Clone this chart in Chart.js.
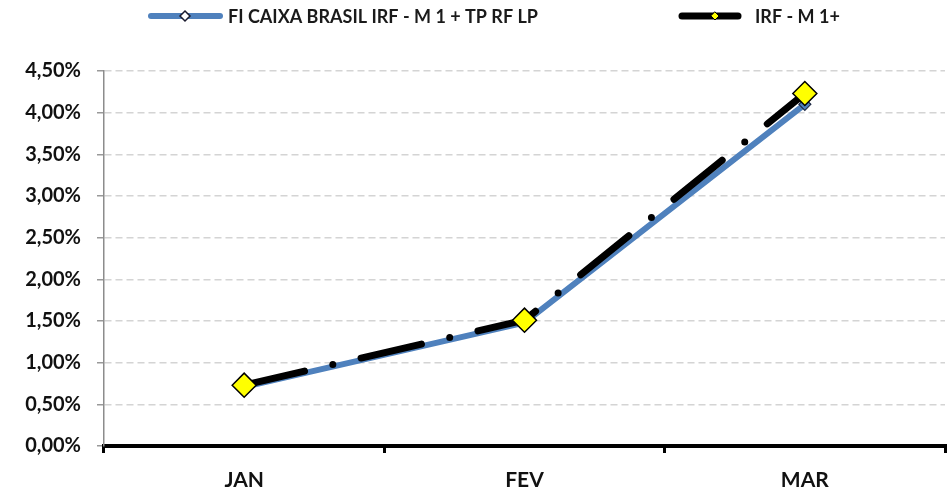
<!DOCTYPE html>
<html><head><meta charset="utf-8">
<script src="https://cdn.jsdelivr.net/npm/chart.js@4.4.1/dist/chart.umd.min.js"></script>
<style>html,body{margin:0;padding:0;background:#fff;}#wrap{width:947px;height:493px;}</style>
</head><body><div id="wrap"><canvas id="c" width="947" height="493"></canvas></div>
<script>
const categories = ['JAN', 'FEV', 'MAR'];
const seriesFund = [0.71, 1.48, 4.10];
const seriesIndex = [0.73, 1.51, 4.23];
const seriesNames = ['FI CAIXA BRASIL IRF - M 1 + TP RF LP', 'IRF - M 1+'];
const yTicks = [0, 0.5, 1, 1.5, 2, 2.5, 3, 3.5, 4, 4.5];

const FONT = 'Lato, "Open Sans", sans-serif';

const legendPlugin = {
  id: 'customLegend',
  afterDraw(chart) {
    const ctx = chart.ctx;
    ctx.save();
    const y = 16;
    ctx.lineCap = 'round';
    ctx.strokeStyle = '#4f81bd'; ctx.lineWidth = 6;
    ctx.beginPath(); ctx.moveTo(151, y); ctx.lineTo(220, y); ctx.stroke();
    ctx.fillStyle = '#ffffff'; ctx.strokeStyle = '#1a1a2e'; ctx.lineWidth = 1.5;
    ctx.beginPath(); ctx.moveTo(185, y - 5); ctx.lineTo(190, y); ctx.lineTo(185, y + 5); ctx.lineTo(180, y); ctx.closePath(); ctx.fill(); ctx.stroke();
    ctx.strokeStyle = '#000000'; ctx.lineWidth = 7;
    ctx.beginPath(); ctx.moveTo(682, y); ctx.lineTo(738, y); ctx.stroke();
    ctx.fillStyle = '#ffff00'; ctx.strokeStyle = '#000'; ctx.lineWidth = 1;
    ctx.beginPath(); ctx.moveTo(715, y - 4); ctx.lineTo(719, y); ctx.lineTo(715, y + 4); ctx.lineTo(711, y); ctx.closePath(); ctx.fill(); ctx.stroke();
    ctx.fillStyle = '#1a1a1a';
    ctx.font = 'bold 18px ' + FONT;
    ctx.textBaseline = 'middle';
    ctx.textAlign = 'left';
    ctx.fillText(seriesNames[0], 228, y + 1);
    ctx.fillText(seriesNames[1], 755, y + 1);
    ctx.restore();
  }
};

new Chart(document.getElementById('c'), {
  type: 'line',
  data: {
    labels: categories,
    datasets: [
      {
        label: seriesNames[0], data: seriesFund, order: 2,
        borderColor: '#4f81bd', borderWidth: 6, borderCapStyle: 'round', borderJoinStyle: 'round',
        pointStyle: 'rectRot', pointRadius: 6, pointBackgroundColor: '#4f81bd', pointBorderColor: '#1f2a44', pointBorderWidth: 1.2,
        tension: 0, fill: false
      },
      {
        label: seriesNames[1], data: seriesIndex, order: 1,
        borderColor: '#000000', borderWidth: 7, borderCapStyle: 'round', borderJoinStyle: 'round',
        borderDash: [62, 29, 0, 29],
        pointStyle: 'rectRot', pointRadius: 12, pointBackgroundColor: '#ffff00', pointBorderColor: '#000000', pointBorderWidth: 1.5,
        tension: 0, fill: false
      }
    ]
  },
  options: {
    responsive: false, animation: false,
    layout: { autoPadding: false, padding: { top: 71, right: 2, left: 0, bottom: 0 } },
    plugins: { legend: { display: false }, tooltip: { enabled: false } },
    scales: {
      x: {
        offset: true,
        afterFit(s) { s.height = 47; s.paddingLeft = 0; s.paddingRight = 0; },
        grid: { offset: true, drawOnChartArea: false, drawTicks: true, tickLength: 7, color: '#000', lineWidth: 3 },
        border: { display: true, color: '#000', width: 4 },
        ticks: { color: '#111', font: { family: FONT, size: 21, weight: 'bold' }, padding: 15 }
      },
      y: {
        min: 0, max: 4.5,
        afterFit(s) { s.width = 104; },
        afterBuildTicks(s) { s.ticks = yTicks.map(v => ({ value: v })); },
        grid: { color: '#d4d4d4', lineWidth: 1.5, tickLength: 7, tickColor: '#999', tickWidth: 1.5 },
        border: { display: true, color: '#8c8c8c', width: 1.5, dash: [7, 4] },
        ticks: { color: '#111', font: { family: FONT, size: 20, weight: 'bold' }, padding: 16,
          callback: v => Number(v).toFixed(2).replace('.', ',') + '%' }
      }
    }
  },
  plugins: [legendPlugin]
});
</script>
</body></html>
